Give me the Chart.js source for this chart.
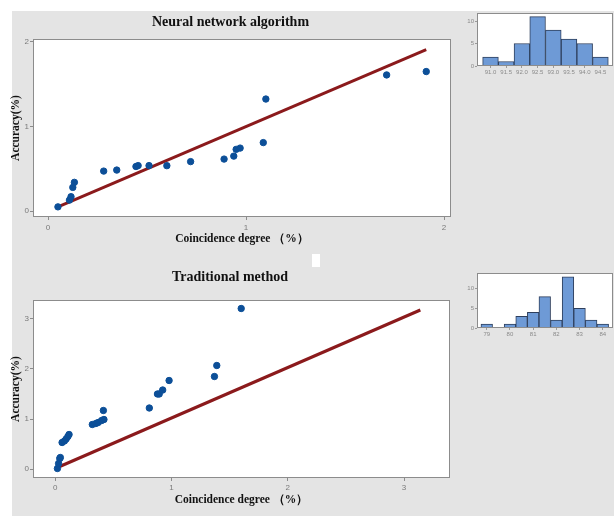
<!DOCTYPE html>
<html>
<head>
<meta charset="utf-8">
<script src="https://cdn.jsdelivr.net/npm/chart.js@4.4.1/dist/chart.umd.min.js"></script>
<style>
  body { margin: 0; background: #fff; width: 614px; height: 516px; position: relative; overflow: hidden; }
  #bg { position: absolute; left: 12px; top: 11px; right: 0; bottom: 0; background: #e4e4e4; }
  #blank { position: absolute; left: 312px; top: 254px; width: 8px; height: 13px; background: #fff; }
  canvas { position: absolute; }
</style>
</head>
<body>
<div id="bg"></div>
<div id="blank"></div>
<canvas id="nn" width="450" height="240" style="left:10px;top:11px"></canvas>
<canvas id="nnHist" width="154" height="80" style="left:460px;top:8px"></canvas>
<canvas id="tm" width="450" height="256" style="left:10px;top:260px"></canvas>
<canvas id="tmHist" width="154" height="80" style="left:460px;top:265px"></canvas>
<script>
// neural network algorithm: coincidence degree vs accuracy
const nnX = [0.05, 0.108, 0.116, 0.125, 0.133, 0.281, 0.347, 0.444, 0.455, 0.51, 0.6, 0.72, 0.889, 0.938, 0.95, 0.97, 1.087, 1.1, 1.71, 1.91];
const nnY = [0.05, 0.13, 0.17, 0.28, 0.34, 0.473, 0.485, 0.527, 0.538, 0.538, 0.537, 0.585, 0.615, 0.65, 0.73, 0.745, 0.81, 1.325, 1.61, 1.65];
const nnFitX = [0.05, 1.91];
const nnFitY = [0.05, 1.91];

// traditional method
const tmX = [0.02, 0.03, 0.04, 0.045, 0.06, 0.08, 0.095, 0.11, 0.12, 0.32, 0.35, 0.37, 0.40, 0.42, 0.415, 0.81, 0.88, 0.895, 0.925, 0.98, 1.37, 1.39, 1.6];
const tmY = [0.01, 0.11, 0.21, 0.23, 0.53, 0.56, 0.6, 0.65, 0.69, 0.89, 0.91, 0.93, 0.97, 0.99, 1.17, 1.22, 1.5, 1.5, 1.58, 1.77, 1.85, 2.07, 3.21];
const tmFitX = [0.03, 3.14];
const tmFitY = [0.04, 3.18];

const scatterTicks = [0, 1, 2, 3];

// histograms (bin centres and counts)
const nnBins = [91.0, 91.5, 92.0, 92.5, 93.0, 93.5, 94.0, 94.5];
const nnCounts = [2, 1, 5, 11, 8, 6, 5, 2];
const nnHistYTicks = [0, 5, 10];

const tmBins = [79.0, 79.5, 80.0, 80.5, 81.0, 81.5, 82.0, 82.5, 83.0, 83.5, 84.0];
const tmCounts = [1, 0, 1, 3, 4, 8, 2, 13, 5, 2, 1];
const tmHistXTicks = [79, 80, 81, 82, 83, 84];
const tmHistYTicks = [0, 5, 10];

const pts = (xs, ys) => xs.map((x, i) => ({ x: x, y: ys[i] }));

// white plot area with a grey frame
const frame = {
  id: 'frame',
  beforeDraw(chart) {
    const a = chart.chartArea, c = chart.ctx;
    c.save();
    c.fillStyle = '#fff';
    c.fillRect(a.left, a.top, a.right - a.left, a.bottom - a.top);
    c.restore();
  },
  afterDraw(chart) {
    const a = chart.chartArea, c = chart.ctx;
    c.save();
    c.strokeStyle = '#8c8c8c';
    c.lineWidth = 1;
    c.strokeRect(a.left + 0.5, a.top + 0.5, a.right - a.left - 1, a.bottom - a.top - 1);
    c.restore();
  }
};

const fixSize = (size, horizontal) => (scale) => {
  if (horizontal) scale.height = size; else scale.width = size;
  scale.paddingTop = 0; scale.paddingBottom = 0;
  scale.paddingLeft = 0; scale.paddingRight = 0;
};
const setTicks = (vals) => (scale) => { scale.ticks = vals.map(v => ({ value: v })); };

function scatter(id, title, xs, ys, fx, fy, o) {
  new Chart(document.getElementById(id), {
    type: 'scatter',
    data: {
      datasets: [{
        data: pts(xs, ys),
        backgroundColor: '#0c4f98',
        borderColor: '#0c4f98',
        pointRadius: 3.2,
        pointHoverRadius: 3.2
      }, {
        data: pts(fx, fy),
        showLine: true,
        borderColor: '#8b1a1c',
        borderWidth: 3,
        pointRadius: 0
      }]
    },
    options: {
      responsive: false,
      animation: false,
      layout: { padding: { top: 0, right: o.padRight, bottom: 0, left: 0 } },
      plugins: {
        legend: { display: false },
        tooltip: { enabled: false },
        title: {
          display: true,
          text: title,
          color: '#111',
          font: { family: 'Liberation Serif', size: 14, weight: 'bold', lineHeight: 1.2 },
          padding: { top: o.titleTop, bottom: o.titleBottom }
        }
      },
      scales: {
        x: {
          type: 'linear',
          min: o.xMin, max: o.xMax,
          afterFit: fixSize(o.xHeight, true),
          afterBuildTicks: setTicks(scatterTicks.filter(v => v <= o.xMax)),
          border: { display: false },
          grid: { drawOnChartArea: false, drawTicks: true, tickLength: 3, color: '#8c8c8c' },
          ticks: { color: '#7a7a7a', padding: o.xTickPad, font: { family: 'Liberation Sans', size: 8 } },
          title: {
            display: true,
            text: 'Coincidence degree （%）',
            color: '#111',
            font: { family: 'Liberation Serif', size: 11.5, weight: 'bold', lineHeight: 1 },
            padding: { top: 0, bottom: o.xTitleBottom }
          }
        },
        y: {
          type: 'linear',
          min: o.yMin, max: o.yMax,
          afterFit: fixSize(23, false),
          afterBuildTicks: setTicks(scatterTicks.filter(v => v <= o.yMax)),
          border: { display: false },
          grid: { drawOnChartArea: false, drawTicks: true, tickLength: 3, color: '#8c8c8c' },
          ticks: { color: '#7a7a7a', padding: 1, font: { family: 'Liberation Sans', size: 8 } },
          title: {
            display: true,
            text: 'Accuracy(%)',
            color: '#111',
            font: { family: 'Liberation Serif', size: 11.5, weight: 'bold', lineHeight: 1 },
            padding: 0
          }
        }
      }
    },
    plugins: [frame]
  });
}

function hist(id, bins, counts, xTicks, yTicks, o) {
  new Chart(document.getElementById(id), {
    type: 'bar',
    data: {
      datasets: [{
        data: pts(bins, counts),
        backgroundColor: '#6e9ad6',
        borderColor: '#2e3f5c',
        borderWidth: 1,
        borderSkipped: 'bottom',
        barPercentage: 1,
        categoryPercentage: 1
      }]
    },
    options: {
      responsive: false,
      animation: false,
      layout: { padding: { top: o.padTop, right: 1, bottom: 0, left: 0 } },
      plugins: { legend: { display: false }, tooltip: { enabled: false } },
      scales: {
        x: {
          type: 'linear',
          offset: false,
          min: o.xMin, max: o.xMax,
          afterFit: fixSize(o.xHeight, true),
          afterBuildTicks: setTicks(xTicks),
          border: { display: false },
          grid: { offset: false, drawOnChartArea: false, tickLength: 2, color: '#9a9a9a' },
          ticks: {
            color: '#8a8a8a', padding: 1, maxRotation: 0, autoSkip: false,
            font: { family: 'Liberation Sans', size: 6 },
            callback: (v) => o.fixed ? v.toFixed(1) : String(v)
          }
        },
        y: {
          min: 0, max: o.yMax,
          afterFit: fixSize(17, false),
          afterBuildTicks: setTicks(yTicks),
          border: { display: false },
          grid: { drawOnChartArea: false, tickLength: 2, color: '#9a9a9a' },
          ticks: { color: '#8a8a8a', padding: 1, font: { family: 'Liberation Sans', size: 6 } }
        }
      }
    },
    plugins: [frame]
  });
}

scatter('nn', 'Neural network algorithm', nnX, nnY, nnFitX, nnFitY, {
  xMin: -0.076, xMax: 2.035, yMin: -0.07, yMax: 2.035,
  padRight: 9, titleTop: 3, titleBottom: 8.2, xHeight: 34, xTickPad: 3, xTitleBottom: 6
});
scatter('tm', 'Traditional method', tmX, tmY, tmFitX, tmFitY, {
  xMin: -0.19, xMax: 3.395, yMin: -0.18, yMax: 3.38,
  padRight: 10, titleTop: 9.3, titleBottom: 13.9, xHeight: 38, xTickPad: 2, xTitleBottom: 10
});

hist('nnHist', nnBins, nnCounts, nnBins, nnHistYTicks, {
  xMin: 90.57, xMax: 94.9, yMax: 11.8, padTop: 5, xHeight: 22, fixed: true
});
hist('tmHist', tmBins, tmCounts, tmHistXTicks, tmHistYTicks, {
  xMin: 78.58, xMax: 84.44, yMax: 14.0, padTop: 8, xHeight: 17, fixed: false
});
</script>
</body>
</html>
